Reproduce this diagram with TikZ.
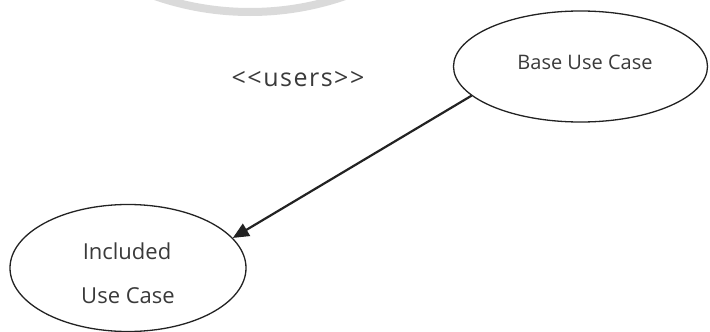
\documentclass[tikz,border=0pt]{standalone}
\usepackage{fontspec}
\setmainfont{Open Sans}
\usetikzlibrary{shapes.geometric,arrows.meta}
\definecolor{ink}{HTML}{222222}
\definecolor{txt}{HTML}{3A3A3A}
\definecolor{wm}{HTML}{DADADA}
\begin{document}
\begin{tikzpicture}[x=1pt,y=-1pt,
  usecase/.style={draw=ink,line width=1.3pt,ellipse,inner sep=0pt},
  lbl/.style={text=txt,font=\fontsize{20}{24}\selectfont},
  biglbl/.style={text=txt,font=\fontsize{22}{26}\selectfont},
  conn/.style={draw=ink,line width=2.2pt,-{Triangle[length=16pt,width=14pt]}}]
\useasboundingbox (0,0) rectangle (710,332);
\begin{scope}
\clip (0,0) rectangle (710,332);
\draw[wm,line width=8pt] (250,-278) circle[radius=290];
\end{scope}
\node[usecase,minimum width=254pt,minimum height=111pt] (base) at (580.5,66.5) {};
\node[lbl] (basetxt) at (585,62) {Base Use Case};
\node[usecase,minimum width=236pt,minimum height=127pt] (inc) at (128,268) {};
\node[biglbl] (inctxt1) at (127,251) {Included};
\node[biglbl] (inctxt2) at (128,296) {Use Case};
\node[text=txt,font=\fontsize{25}{28}\selectfont\addfontfeature{LetterSpace=6}] (stereo) at (298,79) {<{}<users>{}>};
\draw[conn] (base.195) -- (inc.16);
\end{tikzpicture}
\end{document}
